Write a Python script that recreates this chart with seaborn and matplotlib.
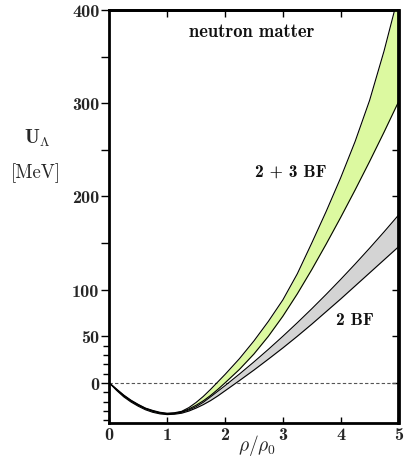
import matplotlib
matplotlib.use("Agg")
import matplotlib.pyplot as plt
import numpy as np
import pandas as pd
import seaborn as sns

# ---- data ----
rho = [0.0, 0.125, 0.25, 0.375, 0.5, 0.625, 0.75, 0.875, 1.0,
       1.125, 1.25, 1.375, 1.5, 1.625, 1.75, 1.875, 2.0,
       2.25, 2.5, 2.75, 3.0, 3.25, 3.5, 3.75, 4.0, 4.25, 4.5, 4.75, 5.0]
u_23bf_upper = [0, -6.5, -13, -18.5, -23, -27, -29.5, -31.5, -32.5,
                -32, -30.5, -26.5, -21, -14.5, -7, 1, 9,
                26, 45, 66, 89, 117, 150, 184, 220, 259, 303, 356, 416]
u_23bf_lower = [0, -7, -13.5, -19, -23.5, -27.3, -30, -32, -33,
                -32.5, -31, -28, -24, -19.2, -13.5, -7, 0,
                14.5, 31, 50, 71.5, 95.5, 121.5, 149, 177.5, 207, 237.5, 269, 301.5]
u_2bf_upper = [0, -7.3, -14, -19.6, -24, -27.8, -30.5, -32.4, -33.5,
               -33, -31.5, -29, -25.5, -20.8, -15, -9, -3,
               9.5, 22.5, 36, 50, 64.5, 79.5, 95, 111, 127.5, 144.5, 162, 180]
u_2bf_lower = [0, -8, -15, -20.5, -25, -28.8, -31.5, -33.2, -34,
               -33.6, -32.5, -30.2, -27, -23.3, -19, -14, -8.5,
               2.5, 13.75, 25.5, 37.5, 50, 63, 76.5, 90, 104, 118, 132, 146]

x_ticks = [0, 1, 2, 3, 4, 5]
x_ticklabels = ["0", "1", "2", "3", "4", "5"]
y_ticks = [0, 50, 100, 150, 200, 250, 300, 350, 400]
y_ticklabels = ["0", "50", "100", "", "200", "", "300", "", "400"]
y_minor = [-40, -30, -20, -10, 10, 20, 30, 40]

sns.set_theme(style="white")
plt.rcParams["font.family"] = ["cmb10", "DejaVu Serif"]
plt.rcParams["mathtext.fontset"] = "cm"
plt.rcParams["axes.unicode_minus"] = False

fig = plt.figure(figsize=(4.08, 4.60), dpi=100)
W, H = 408, 460
ax = fig.add_axes([109.3 / W, 1 - 424 / H, (398.5 - 109.3) / W, (424 - 11) / H])

green = "#dcf9a0"
grey = "#d4d4d4"

ax.axhline(0, color="#555555", lw=0.8, dashes=(3, 2), zorder=1)
ax.fill_between(rho, u_2bf_lower, u_2bf_upper, color=grey, lw=0, zorder=2)
ax.fill_between(rho, u_23bf_lower, u_23bf_upper, color=green, lw=0, zorder=3)

frames = []
for name, vals in [("23u", u_23bf_upper), ("23l", u_23bf_lower),
                   ("2u", u_2bf_upper), ("2l", u_2bf_lower)]:
    frames.append(pd.DataFrame({"rho": rho, "U": vals, "curve": name}))
df = pd.concat(frames, ignore_index=True)
sns.lineplot(data=df, x="rho", y="U", units="curve", estimator=None,
             color="black", lw=0.8, ax=ax, legend=False, zorder=4)

ax.set_xlim(0, 5)
ax.set_ylim(-43, 400)
ax.set_xlabel("")
ax.set_ylabel("")

for s in ax.spines.values():
    s.set_visible(True)
    s.set_color("black")
    s.set_linewidth(2.0)
    s.set_zorder(6)

ax.set_xticks(x_ticks)
ax.set_xticklabels(x_ticklabels)
ax.tick_params(axis="x", which="major", direction="in", length=4, width=1,
               color="black", labelsize=13, pad=3, bottom=True)
ax.set_yticks(y_ticks)
ax.set_yticklabels(y_ticklabels)
ax.set_yticks(y_minor, minor=True)
ax.tick_params(axis="y", which="major", direction="out", length=6, width=1,
               color="black", labelsize=13, pad=1, left=True)
ax.tick_params(axis="y", which="minor", direction="out", length=4, width=1,
               color="black", left=True)

secy = ax.secondary_yaxis("right")
secy.set_yticks(y_ticks)
secy.tick_params(direction="in", length=5, width=1, color="black",
                 labelright=False)
secy.spines["right"].set_linewidth(2.0)
secy.spines["right"].set_color("black")

secx = ax.secondary_xaxis("top")
secx.set_xticks([1, 2, 3, 4])
secx.tick_params(direction="in", length=5, width=1, color="black",
                 labeltop=False)
secx.spines["top"].set_linewidth(2.0)
secx.spines["top"].set_color("black")

ax.text(2.47, 377, "neutron matter", fontsize=13.3, ha="center", va="center",
        color="#111111")
ax.text(3.14, 227, "2 + 3 BF", fontsize=12.5, ha="center", va="center",
        color="#111111")
ax.text(4.25, 68, "2 BF", fontsize=12.5, ha="center", va="center",
        color="#111111")

fig.text(257 / W, 1 - 446 / H, r"$\rho/\rho_0$", fontsize=14,
         ha="center", va="center")
fig.text(37 / W, 1 - 138 / H, r"$\mathbf{U}_{\mathbf{\Lambda}}$", fontsize=14,
         ha="center", va="center")
fig.text(36 / W, 1 - 173 / H, "[MeV]", fontsize=13.5, ha="center",
         va="center", family=["cmr10", "DejaVu Serif"])

fig.savefig("out.png", dpi=100)
